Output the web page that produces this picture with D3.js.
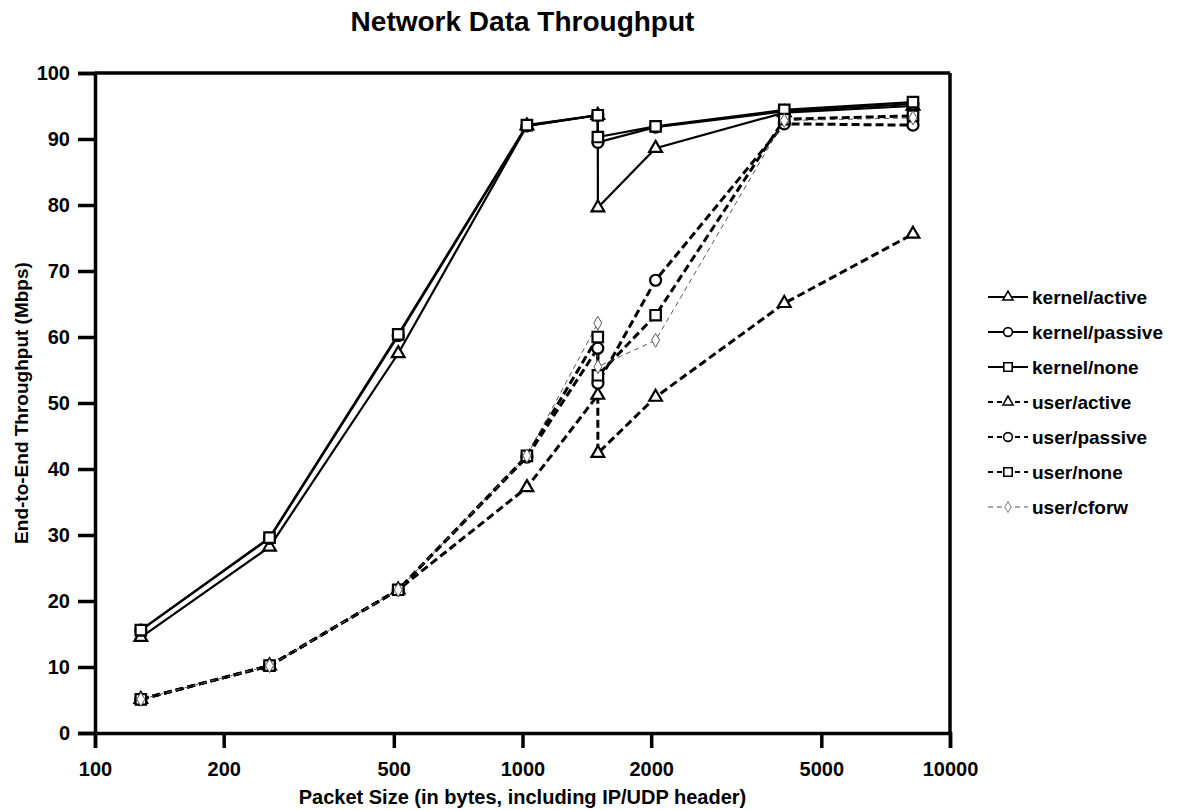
<!DOCTYPE html>
<html>
<head>
<meta charset="utf-8">
<script src="https://cdn.jsdelivr.net/npm/d3@7"></script>
<style>
  body { margin: 0; background: #fff; }
  text { font-family: "Liberation Sans", Arial, Helvetica, sans-serif; }
</style>
</head>
<body>
<script>
// packet sizes (bytes); 1500 and 1501 sit on top of each other on the log axis
var packetSizes = [128, 256, 512, 1024, 1500, 1501, 2048, 4096, 8192];

var kernelActive  = [14.5, 28.2, 57.5, 92.0, 93.6, 79.6, 88.6, 94.0, 95.0];
var kernelPassive = [15.6, 29.5, 60.2, 92.0, 93.6, 89.5, 91.8, 94.2, 95.3];
var kernelNone    = [15.6, 29.6, 60.4, 92.1, 93.6, 90.3, 91.9, 94.4, 95.6];
var userActive    = [5.1, 10.2, 21.7, 37.2, 51.2, 42.4, 50.9, 65.1, 75.6];
var userPassive   = [5.1, 10.2, 21.7, 41.8, 58.3, 53.0, 68.6, 92.3, 92.1];
var userNone      = [5.1, 10.2, 21.7, 42.0, 60.0, 54.2, 63.3, 93.0, 93.5];
var userCforw     = [5.1, 10.2, 21.7, 42.0, 62.1, 55.5, 59.5, 92.8, 93.2];

var xTicks = [100, 200, 500, 1000, 2000, 5000, 10000];
var yTicks = [0, 10, 20, 30, 40, 50, 60, 70, 80, 90, 100];

var series = [
  { name: "kernel/active",  values: kernelActive,  marker: "triangle", style: "kernel" },
  { name: "kernel/passive", values: kernelPassive, marker: "circle",   style: "kernel" },
  { name: "kernel/none",    values: kernelNone,    marker: "square",   style: "kernel" },
  { name: "user/active",    values: userActive,    marker: "triangle", style: "user" },
  { name: "user/passive",   values: userPassive,   marker: "circle",   style: "user" },
  { name: "user/none",      values: userNone,      marker: "square",   style: "user" },
  { name: "user/cforw",     values: userCforw,     marker: "diamond",  style: "cforw" }
];

var width = 1177, height = 810;
var margin = { top: 73, right: 227, bottom: 77, left: 95 };

var svg = d3.select("body").append("svg")
    .attr("width", width)
    .attr("height", height);

var x = d3.scaleLog()
    .domain([100, 10000])
    .range([margin.left, width - margin.right]);

var y = d3.scaleLinear()
    .domain([0, 100])
    .range([height - margin.bottom, margin.top]);

// line styles
var styles = {
  kernel: { width: 2.2, dash: null, color: "#000" },
  user:   { width: 3, dash: "8,4", color: "#000" },
  cforw:  { width: 1, dash: "5,4", color: "#555" }
};

function markerPath(type) {
  if (type === "triangle") return d3.symbol().type(d3.symbolTriangle).size(70)();
  if (type === "circle") return d3.symbol().type(d3.symbolCircle).size(95)();
  if (type === "square") return d3.symbol().type(d3.symbolSquare).size(110)();
  return d3.symbol().type(d3.symbolDiamond).size(55)();
}

// frame
var frame = svg.append("g");
frame.append("line")
  .attr("x1", x(100)).attr("x2", x(10000))
  .attr("y1", y(100)).attr("y2", y(100))
  .attr("stroke", "#000").attr("stroke-width", 3.5);
frame.append("line")
  .attr("x1", x(10000)).attr("x2", x(10000))
  .attr("y1", y(100)).attr("y2", y(0))
  .attr("stroke", "#000").attr("stroke-width", 3.5);

// axes
var xAxis = svg.append("g")
  .attr("transform", "translate(0," + y(0) + ")")
  .call(d3.axisBottom(x).tickValues(xTicks).tickFormat(d3.format("d")).tickSize(15).tickPadding(14));

var yAxis = svg.append("g")
  .attr("transform", "translate(" + x(100) + ",0)")
  .call(d3.axisLeft(y).tickValues(yTicks).tickSize(17).tickPadding(8));

[xAxis, yAxis].forEach(function(a) {
  a.select(".domain").attr("stroke", "#000").attr("stroke-width", 3.5);
  a.selectAll(".tick line").attr("stroke", "#000").attr("stroke-width", 3.5);
  a.selectAll(".tick text")
    .attr("fill", "#000")
    .style("font-size", "20px")
    .style("font-weight", "bold");
});

// titles
svg.append("text")
  .attr("x", (x(100) + x(10000)) / 2)
  .attr("y", 31)
  .attr("text-anchor", "middle")
  .style("font-size", "28px")
  .style("font-weight", "bold")
  .text("Network Data Throughput");

svg.append("text")
  .attr("x", (x(100) + x(10000)) / 2)
  .attr("y", 804)
  .attr("text-anchor", "middle")
  .style("font-size", "20px")
  .style("font-weight", "bold")
  .text("Packet Size (in bytes, including IP/UDP header)");

svg.append("text")
  .attr("transform", "translate(28," + (y(0) + y(100)) / 2 + ") rotate(-90)")
  .attr("text-anchor", "middle")
  .style("font-size", "19px")
  .style("font-weight", "bold")
  .text("End-to-End Throughput (Mbps)");

// lines
var line = d3.line()
  .x(function(d) { return x(d[0]); })
  .y(function(d) { return y(d[1]); });

var plot = svg.append("g");

series.forEach(function(s) {
  var st = styles[s.style];
  var pts = packetSizes.map(function(p, i) { return [p, s.values[i]]; });
  plot.append("path")
    .datum(pts)
    .attr("d", line)
    .attr("fill", "none")
    .attr("stroke", st.color)
    .attr("stroke-width", st.width)
    .attr("stroke-dasharray", st.dash);
});

// markers, drawn after all lines so they stay hollow
series.forEach(function(s) {
  var st = styles[s.style];
  plot.selectAll(null)
    .data(packetSizes.map(function(p, i) { return [p, s.values[i]]; }))
    .enter()
    .append("path")
    .attr("d", markerPath(s.marker))
    .attr("transform", function(d) { return "translate(" + x(d[0]) + "," + y(d[1]) + ")"; })
    .attr("fill", "#fff")
    .attr("stroke", st.color)
    .attr("stroke-width", s.style === "cforw" ? 1 : 2.2);
});

// legend
var legend = svg.append("g").attr("transform", "translate(988,297)");
series.forEach(function(s, i) {
  var st = styles[s.style];
  var g = legend.append("g").attr("transform", "translate(0," + (i * 35) + ")");
  g.append("line")
    .attr("x1", 0).attr("x2", 40)
    .attr("y1", 0).attr("y2", 0)
    .attr("stroke", st.color)
    .attr("stroke-width", s.style === "cforw" ? 1 : 2)
    .attr("stroke-dasharray", s.style === "user" ? "5,4" : st.dash);
  g.append("path")
    .attr("d", markerPath(s.marker))
    .attr("transform", "translate(20,0) scale(0.8)")
    .attr("fill", "#fff")
    .attr("stroke", st.color)
    .attr("stroke-width", s.style === "cforw" ? 1 : 2);
  g.append("text")
    .attr("x", 44)
    .attr("y", 0)
    .attr("dy", "0.35em")
    .style("font-size", "19px")
    .style("font-weight", "bold")
    .text(s.name);
});
</script>
</body>
</html>
